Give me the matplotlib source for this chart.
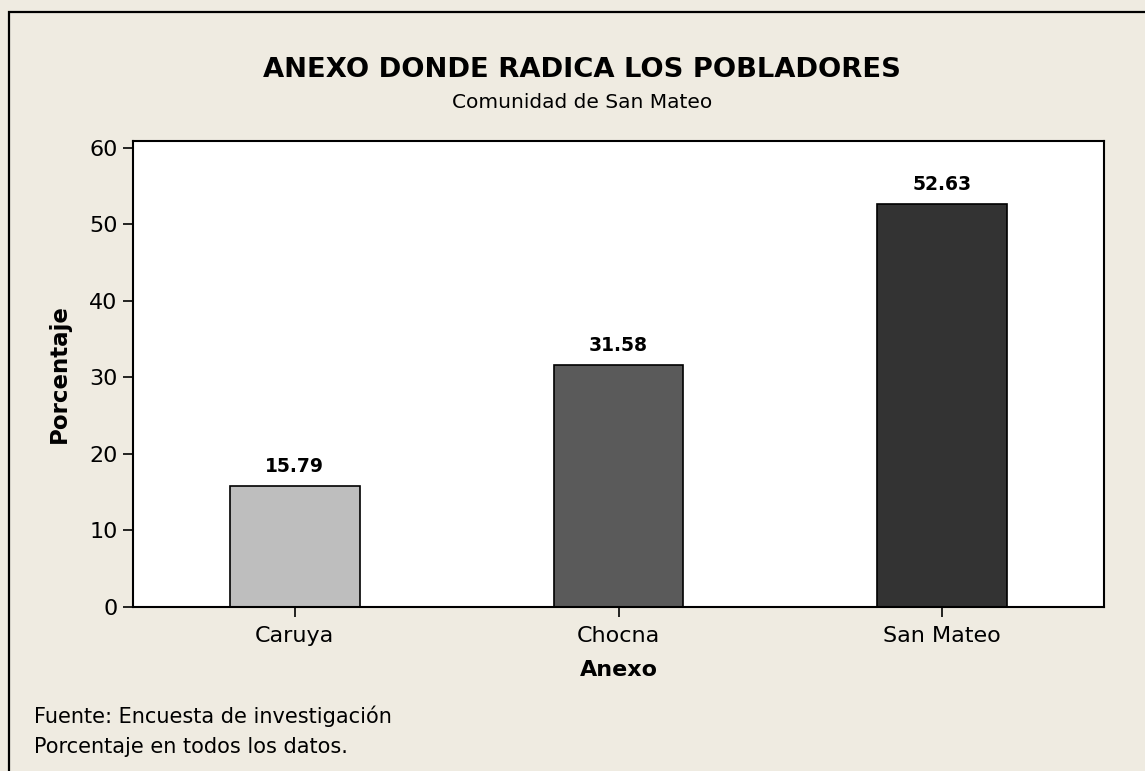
import matplotlib.pyplot as plt
from matplotlib.patches import Rectangle

# Datos
anexos = ["Caruya", "Chocna", "San Mateo"]
porcentaje = [15.79, 31.58, 52.63]
colores = ["#bebebe", "#5a5a5a", "#333333"]
yticks = [0, 10, 20, 30, 40, 50, 60]

W, H = 1145, 771
fondo = "#efebe1"

plt.rcParams['font.family'] = ['DejaVu Sans']

fig = plt.figure(figsize=(W / 100, H / 100), dpi=100, facecolor=fondo)

# marco exterior (sale por la derecha y abajo)
fig.patches.append(Rectangle((9 / W, -0.05), 1.2, 1 - 12 / H + 0.05,
                             transform=fig.transFigure, fill=False,
                             edgecolor="black", linewidth=1.6))

ax = fig.add_axes([133 / W, 1 - 607 / H, (1104 - 133) / W, (607 - 141) / H])
ax.set_facecolor("white")

x = range(len(anexos))
bars = ax.bar(x, porcentaje, width=0.4, color=colores, edgecolor="black", linewidth=1.2)
for b, v in zip(bars, porcentaje):
    ax.annotate(f"{v:.2f}", (b.get_x() + b.get_width() / 2, v), xytext=(0, 7.5),
                textcoords="offset points", ha="center", va="bottom",
                fontsize=13.5, fontweight="bold")

ax.set_xlim(-0.5, 2.5)
ax.set_ylim(0, 60.85)
ax.set_xticks(list(x))
ax.set_xticklabels(anexos)
ax.set_yticks(yticks)
ax.tick_params(axis="both", direction="out", length=7, width=1.2, labelsize=16, pad=4)
ax.tick_params(axis="x", pad=7)
for s in ax.spines.values():
    s.set_linewidth(1.5)

ax.set_xlabel("Anexo", fontsize=16, fontweight="bold", labelpad=10)
ax.set_ylabel("Porcentaje", fontsize=16.5, fontweight="bold", labelpad=13)

fig.text(582 / W, 1 - 77 / H, "ANEXO DONDE RADICA LOS POBLADORES",
         ha="center", va="baseline", fontsize=19.7, fontweight="bold")
fig.text(582 / W, 1 - 108 / H, "Comunidad de San Mateo",
         ha="center", va="baseline", fontsize=14.5)

fig.text(34 / W, 1 - 723 / H, "Fuente: Encuesta de investigación",
         ha="left", va="baseline", fontsize=15)
fig.text(34 / W, 1 - 753 / H, "Porcentaje en todos los datos.",
         ha="left", va="baseline", fontsize=15)

fig.savefig("out.png", dpi=100, facecolor=fondo)
